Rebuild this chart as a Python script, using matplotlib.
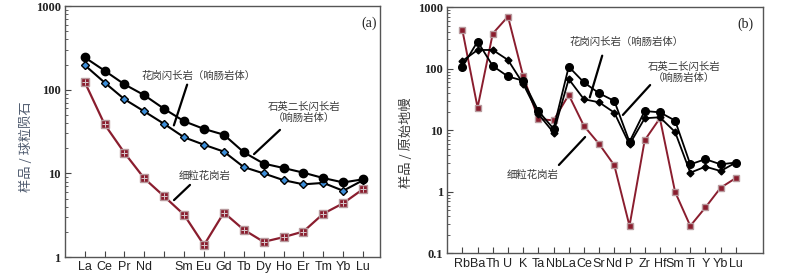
import numpy as np
import matplotlib.pyplot as plt
from matplotlib.ticker import LogLocator, NullFormatter, FixedLocator

plt.rcParams['font.family'] = ['Noto Sans CJK SC', 'DejaVu Sans']

# ---- panel (a): REE, chondrite normalised ----
ree = ['La', 'Ce', 'Pr', 'Nd', '', 'Sm', 'Eu', 'Gd', 'Tb', 'Dy', 'Ho', 'Er', 'Tm', 'Yb', 'Lu']
a_qmd = [244, 169, 116, 86, 59, 42, 34, 29, 17.9, 13.1, 11.6, 10.2, 8.8, 7.8, 8.5]      # 石英二长闪长岩
a_gd = [197, 122, 77, 55, 39, 27, 22, 18.2, 11.9, 10.0, 8.3, 7.4, 7.7, 6.2, 8.3]        # 花岗闪长岩
a_fg = [124, 38.6, 17.6, 8.7, 5.3, 3.2, 1.39, 3.4, 2.12, 1.52, 1.73, 2.02, 3.3, 4.4, 6.5]  # 细粒花岗岩

# ---- panel (b): spider diagram, primitive mantle normalised ----
spider = ['Rb', 'Ba', 'Th', 'U', 'K', 'Ta', 'Nb', 'La', 'Ce', 'Sr', 'Nd', 'P', 'Zr', 'Hf',
          'Sm', 'Ti', 'Y', 'Yb', 'Lu']
b_qmd = [108, 277, 111, 75, 64, 20.6, 10.6, 108, 60, 40, 30, 6.5, 20.6, 19.6, 14.4,
         2.8, 3.4, 2.8, 3.0]
b_gd = [134, 202, 202, 139, 57, 18.4, 9.2, 68, 32, 28.5, 19.4, 5.9, 15.7, 16.3, 9.4,
        2.05, 2.57, 2.18, 3.0]
b_fg = [423, 23.4, 373, 705, 76, 15.3, 14.5, 37.6, 11.8, 6.0, 2.7, 0.28, 6.9, 15.7, 1.0,
        0.28, 0.56, 1.17, 1.68]

red = '#8a1d2e'
red_edge = '#b89a9e'
txt = '#3a3a3a'

fig = plt.figure(figsize=(8, 2.77), dpi=100)
ax1 = fig.add_axes([0.081, 0.072, 0.394, 0.906])
ax2 = fig.add_axes([0.559, 0.085, 0.395, 0.889])


def style(ax, labels, ylim):
    ax.set_yscale('log')
    ax.set_ylim(*ylim)
    x = np.arange(len(labels))
    ax.xaxis.set_major_locator(FixedLocator(x))
    ax.set_xticklabels(labels, family=['Liberation Sans'], fontsize=9, color='#222222')
    ax.yaxis.set_major_locator(LogLocator(base=10))
    ax.yaxis.set_minor_locator(LogLocator(base=10, subs=np.arange(2, 10)))
    ax.yaxis.set_minor_formatter(NullFormatter())
    ax.yaxis.set_major_formatter(plt.FuncFormatter(lambda v, p: '%g' % v))
    for t in ax.get_yticklabels():
        t.set_family(['Liberation Serif'])
        t.set_fontweight('bold')
    ax.tick_params(direction='in', which='major', length=4, width=0.8, colors='#444444',
                   labelcolor='#222222', pad=3)
    ax.tick_params(direction='in', which='minor', length=2, width=0.6, colors='#444444')
    ax.tick_params(axis='y', labelsize=9)
    for s in ax.spines.values():
        s.set_color('#555555')
        s.set_linewidth(1.0)


def annot(ax, s, tx, ty, l0, l1, **kw):
    # positions in pixels from the top-left of the 800x277 image
    ax.annotate(s, xy=(tx, 277 - ty), xycoords='figure pixels', ha='center', va='center',
                fontsize=7.5, color=txt, **kw)
    ax.annotate('', xy=(l1[0], 277 - l1[1]), xytext=(l0[0], 277 - l0[1]),
                xycoords='figure pixels', textcoords='figure pixels',
                arrowprops=dict(arrowstyle='-', color='black', lw=1.6))


# panel (a)
x = np.arange(len(ree))
ax1.plot(x, a_fg, '-', color=red, lw=1.6, marker='s', ms=5.5, mfc=red, mec=red_edge, mew=1.0, zorder=3)
ax1.plot(x, a_fg, ' ', marker='+', ms=4.5, mec='#d8c8cc', mew=0.7, zorder=4)
ax1.plot(x, a_gd, '-', color='black', lw=1.5, marker='D', ms=4, mfc='#3d8ed8', mec='black', mew=1.0, zorder=3)
ax1.plot(x, a_qmd, '-', color='black', lw=1.5, marker='o', ms=6, mfc='black', mec='black', zorder=3)
ax1.set_xlim(-1, 14.85)
style(ax1, ree, (1, 1000))
ax1.set_ylabel('样品 / 球粒陨石', fontsize=9.5, color='#4e5a6e')
ax1.yaxis.set_label_coords(-0.10, 0.44)
ax1.text(0.99, 0.93, '(a)', transform=ax1.transAxes, ha='right', va='center',
         family=['Liberation Serif'], fontsize=10, color='#222222')

annot(ax1, '花岗闪长岩（响肠岩体）', 199, 76, (188, 82), (173, 128))
annot(ax1, '石英二长闪长岩\n（响肠岩体）', 304, 112, (282, 128), (252, 156), linespacing=1.1)
annot(ax1, '细粒花岗岩', 205, 176, (192, 183), (172, 202))

# panel (b)
x = np.arange(len(spider))
ax2.plot(x, b_fg, '-', color=red, lw=1.4, marker='s', ms=5, mfc=red, mec=red_edge, mew=1.0, zorder=3)
ax2.plot(x, b_gd, '-', color='black', lw=1.3, marker='D', ms=3.5, mfc='black', mec='black', zorder=4)
ax2.plot(x, b_qmd, '-', color='black', lw=1.3, marker='o', ms=5.5, mfc='black', mec='black', zorder=4)
ax2.set_xlim(-1, 19.8)
style(ax2, spider, (0.1, 1000))
ax2.set_ylabel('样品 / 原始地幔', fontsize=9.5, color='#3a3a3a')
ax2.yaxis.set_label_coords(-0.108, 0.45)
ax2.text(0.97, 0.93, '(b)', transform=ax2.transAxes, ha='right', va='center',
         family=['Liberation Serif'], fontsize=10, color='#222222')

annot(ax2, '花岗闪长岩（响肠岩体）', 627, 42, (603, 53), (589, 100))
annot(ax2, '石英二长闪长岩\n（响肠岩体）', 684, 72, (652, 83), (621, 117), linespacing=1.1)
annot(ax2, '细粒花岗岩', 533, 175, (557, 167), (587, 135))

fig.savefig('out.png', dpi=100)
